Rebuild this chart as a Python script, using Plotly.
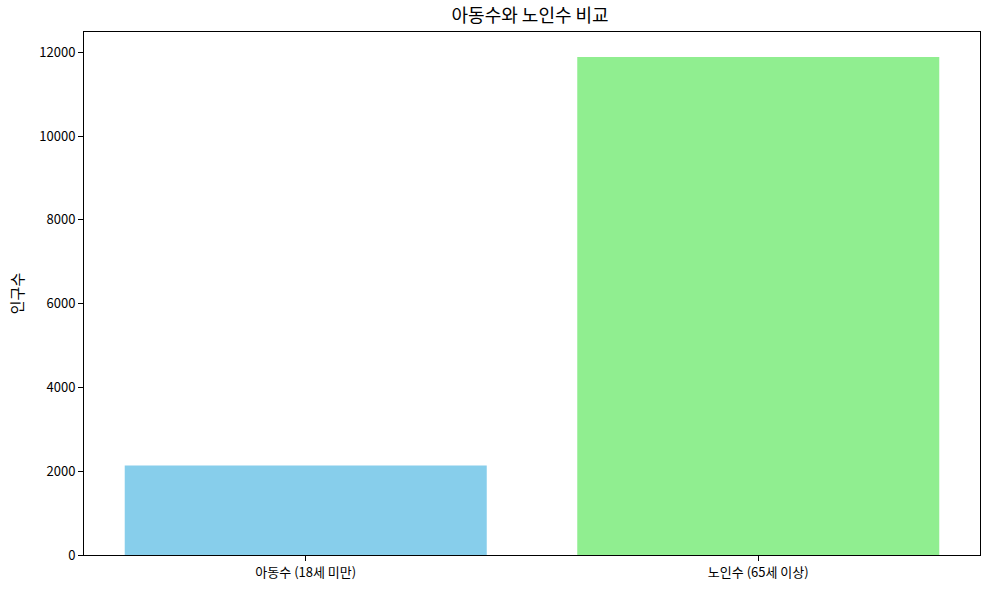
import plotly.graph_objects as go

categories = ["아동수 (18세 미만)", "노인수 (65세 이상)"]
values = [2136, 11888]
colors = ["#87CEEB", "#90EE90"]
y_ticks = [0, 2000, 4000, 6000, 8000, 10000, 12000]

font_family = "Noto Sans CJK KR, DejaVu Sans, sans-serif"

fig = go.Figure(go.Bar(
    x=[0, 1], y=values, width=0.8, marker=dict(color=colors, line=dict(width=0)),
    hoverinfo="skip",
))

fig.update_layout(
    width=989, height=589,
    margin=dict(l=84, r=9, t=32, b=34, autoexpand=False),
    plot_bgcolor="white", paper_bgcolor="white",
    font=dict(family=font_family, size=13, color="black"),
    title=dict(text="아동수와 노인수 비교", x=0.536, xanchor="center", y=0.973, yanchor="middle",
               font=dict(size=18, color="black")),
    showlegend=False,
)
fig.update_xaxes(
    range=[-0.49, 1.49], tickvals=[0, 1], ticktext=categories,
    showline=True, linecolor="black", linewidth=1, mirror=True,
    ticks="outside", ticklen=5, tickcolor="black", showgrid=False, zeroline=False,
    tickfont=dict(size=13), automargin=False,
)
fig.update_yaxes(
    range=[0, 12482], tickvals=y_ticks, ticktext=[str(v) for v in y_ticks],
    showline=True, linecolor="black", linewidth=1, mirror=True,
    ticks="outside", ticklen=5, tickcolor="black", showgrid=False, zeroline=False,
    title=dict(text="인구수", font=dict(size=15), standoff=12),
    tickfont=dict(size=13), automargin=False,
)

fig.write_html("out.html", config={"displayModeBar": False},
               post_script="document.body.style.margin='0';document.body.style.padding='0';")
